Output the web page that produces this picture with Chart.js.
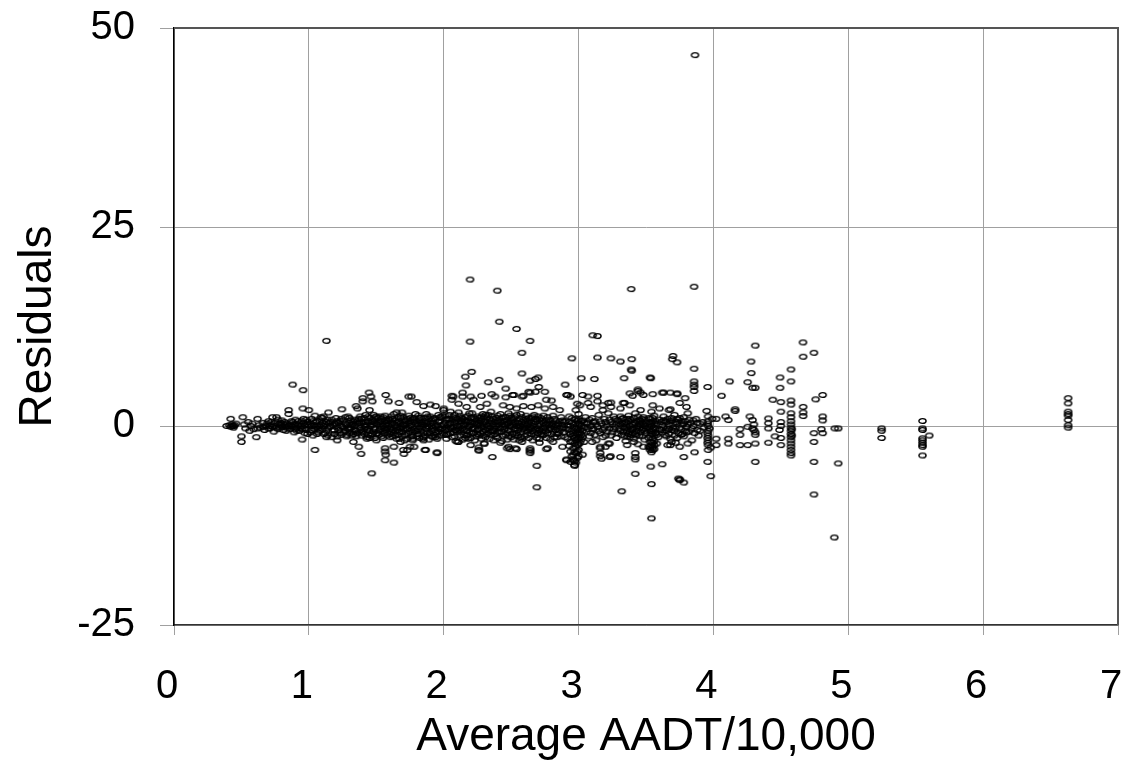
<!DOCTYPE html>
<html>
<head>
<meta charset="utf-8">
<script src="https://cdn.jsdelivr.net/npm/chart.js@4.4.0/dist/chart.umd.min.js"></script>
<style>
  html, body { margin: 0; padding: 0; background: #fff; }
  #wrap { width: 1126px; height: 762px; position: relative; }
</style>
</head>
<body>
<div id="wrap"><canvas id="chart"></canvas></div>
<script>
// Ejes
const xTicks = [0, 1, 2, 3, 4, 5, 6, 7];
const yTicks = [-25, 0, 25, 50];

// Residuales, [AADT/10000, residual], por tramos de x
const band04to10 = [
  [0.39,0.0],[0.41,0.1],[0.42,-0.1],[0.43,0.0],[0.43,0.2],[0.44,-0.2],[0.45,0.1],[0.44,0.0],[0.46,0.3],[0.42,0.9],
  [0.50,-1.3],[0.50,-2.0],[0.51,1.1],[0.52,0.2],[0.53,-0.3],[0.55,0.5],[0.56,-0.6],[0.57,0.0],[0.58,0.3],[0.59,-0.4],
  [0.61,-1.4],[0.62,0.9],[0.63,0.1],[0.64,-0.2],[0.66,0.4],[0.67,-0.5],[0.68,0.0],[0.70,0.6],[0.71,-0.3],[0.72,0.2],
  [0.73,1.1],[0.74,-0.7],[0.75,0.0],[0.76,1.1],[0.77,0.8],[0.78,-0.2],[0.79,0.4],[0.80,0.7],[0.81,-0.5],[0.82,0.1],
  [0.83,-0.1],[0.84,0.3],[0.85,2.0],[0.85,1.5],[0.86,-0.4],[0.87,0.0],[0.88,5.2],[0.88,0.5],[0.89,-0.8],[0.90,0.2],
  [0.91,-0.2],[0.92,0.6],[0.93,-0.6],[0.94,0.0],[0.95,-1.7],[0.955,2.2],[0.957,4.5],[0.96,0.4],[0.97,-0.3],[0.98,0.8],
  [0.99,-1.0],[1.0,2.0],[1.0,0.1],[0.76,-0.2],[0.78,0.3],[0.80,-0.1],[0.82,0.5],[0.84,-0.3],[0.86,0.2],[0.88,-0.1],
  [0.90,0.8],[0.91,-0.6],[0.93,0.3],[0.95,-0.4],[0.96,0.9],[0.97,-0.9],[0.99,0.2],[0.62,-0.3],[0.66,-0.1],[0.69,0.3],[0.71,0.0],
  [0.70,-0.3],[0.72,0.5],[0.73,-0.1],[0.75,0.4],[0.77,-0.4],[0.79,0.1],[0.81,0.3],[0.83,-0.6],[0.85,0.0],[0.87,0.6],
  [0.89,0.2],[0.90,-0.4],[0.92,0.1],[0.94,-0.3],[0.95,0.6],[0.97,0.1],[0.98,-0.5],[0.99,0.5]
];
const band10to15 = [
  [1.01,0.3],[1.02,-0.5],[1.02,0.9],[1.03,-1.2],[1.04,0.1],[1.045,-3.0],[1.045,1.3],[1.05,-0.2],[1.06,0.6],[1.07,-0.8],
  [1.08,0.0],[1.09,1.1],[1.10,-0.4],[1.10,0.4],[1.11,-1.0],[1.12,0.2],[1.13,10.7],[1.13,-0.6],[1.14,0.8],[1.145,1.7],
  [1.15,-0.1],[1.16,0.5],[1.17,-1.4],[1.18,0.1],[1.19,-0.5],[1.20,1.0],[1.21,-0.2],[1.22,0.4],[1.23,-0.9],[1.24,0.0],
  [1.245,2.1],[1.25,0.7],[1.26,-0.3],[1.27,0.3],[1.28,-1.1],[1.29,1.2],[1.30,-0.4],[1.31,0.2],[1.32,-0.7],[1.33,0.6],
  [1.34,0.0],[1.35,2.5],[1.35,-1.3],[1.36,2.2],[1.37,-2.6],[1.37,0.9],[1.38,-0.2],[1.387,-3.5],[1.39,0.4],[1.40,3.5],
  [1.40,3.1],[1.40,-0.8],[1.41,0.1],[1.42,1.4],[1.43,-0.5],[1.44,0.6],[1.446,4.2],[1.45,2.0],[1.45,-1.5],[1.46,3.7],
  [1.46,0.0],[1.466,-5.95],[1.47,3.1],[1.47,0.8],[1.48,-0.3],[1.49,1.1],[1.50,-1.0],
  [1.02,0.0],[1.05,0.5],[1.07,-0.3],[1.09,0.2],[1.12,-0.9],[1.15,0.4],[1.18,-0.6],[1.20,0.3],[1.23,0.6],[1.26,-0.8],
  [1.28,0.1],[1.31,-0.2],[1.33,-1.0],[1.36,0.3],[1.39,-0.7],[1.42,-0.1],[1.44,-1.1],[1.47,0.2],[1.49,-0.4],[1.11,1.2],
  [1.21,-1.3],[1.30,1.0],[1.41,1.0],[1.48,1.4],
  [1.01,-0.8],[1.03,0.6],[1.04,-0.4],[1.06,0.0],[1.06,-1.0],[1.08,0.7],[1.08,-0.6],[1.10,1.0],[1.11,0.0],[1.13,0.5],
  [1.14,-0.3],[1.14,-1.2],[1.16,0.0],[1.17,0.8],[1.19,0.3],[1.19,-1.0],[1.21,0.6],[1.22,-0.5],[1.24,-1.1],[1.24,0.9],
  [1.25,-0.1],[1.27,-0.6],[1.27,1.1],[1.29,-0.3],[1.30,0.4],[1.32,0.1],[1.32,-1.2],[1.34,0.8],[1.34,-0.5],[1.36,-0.9],
  [1.37,0.4],[1.38,1.2],[1.39,-1.2],[1.40,0.5],[1.41,-0.4],[1.43,0.2],[1.43,-1.4],[1.44,1.2],[1.45,-0.6],[1.46,0.5],
  [1.47,-1.0],[1.48,0.6],[1.49,-1.5],[1.50,0.3]
];
const band15to20 = [
  [1.51,0.2],[1.52,-0.6],[1.53,1.2],[1.54,-1.3],[1.55,0.0],[1.56,0.6],[1.565,1.3],[1.565,-2.8],[1.565,-3.2],[1.57,3.9],
  [1.57,-3.6],[1.565,-4.3],[1.58,-0.3],[1.59,3.1],[1.59,0.9],[1.60,-1.0],[1.61,0.3],[1.62,-0.5],[1.63,-2.6],[1.63,-4.6],
  [1.63,1.5],[1.64,0.1],[1.65,1.7],[1.65,-1.6],[1.66,0.5],[1.668,2.9],[1.67,-0.2],[1.68,1.0],[1.69,1.7],[1.69,-0.8],
  [1.70,0.2],[1.705,-3.5],[1.71,-1.8],[1.72,0.7],[1.73,-0.4],[1.74,3.7],[1.74,1.3],[1.75,-2.6],[1.75,0.0],[1.76,3.7],
  [1.77,-1.2],[1.78,-2.6],[1.78,0.5],[1.79,1.5],[1.80,3.0],[1.80,-0.6],[1.81,0.2],[1.82,-1.5],[1.83,1.0],[1.84,-0.1],
  [1.85,2.5],[1.85,-0.9],[1.86,0.6],[1.866,-3.0],[1.87,-0.3],[1.88,1.2],[1.89,-1.7],[1.90,2.7],[1.90,0.3],[1.91,-0.6],
  [1.92,0.9],[1.93,-1.1],[1.94,2.5],[1.94,0.0],[1.95,-3.3],[1.95,-1.6],[1.96,0.5],[1.97,-0.4],[1.98,1.1],[1.99,-0.9],
  [1.998,2.0],[2.0,0.2],
  [1.52,0.5],[1.54,-0.2],[1.56,-0.9],[1.58,0.4],[1.60,0.8],[1.62,-1.3],[1.64,-0.6],[1.66,-1.1],[1.68,-0.3],[1.70,1.1],
  [1.72,-1.1],[1.74,0.4],[1.76,-0.5],[1.78,1.0],[1.80,0.6],[1.82,-0.2],[1.84,0.5],[1.86,-1.2],[1.88,0.0],[1.90,-0.9],
  [1.92,-0.2],[1.94,-1.4],[1.96,1.4],[1.98,0.1],[1.53,-0.4],[1.57,0.2],[1.61,-0.2],[1.67,0.6],[1.71,0.1],[1.73,-1.6],
  [1.77,0.8],[1.81,-1.0],[1.83,0.3],[1.87,1.5],[1.91,0.7],[1.97,-1.2],
  [1.51,-0.9],[1.51,1.0],[1.53,0.2],[1.54,0.9],[1.55,-0.6],[1.55,-1.5],[1.57,0.7],[1.57,-0.5],[1.58,-1.2],[1.59,0.1],
  [1.60,-0.4],[1.61,1.2],[1.62,0.4],[1.63,-0.9],[1.64,0.7],[1.65,-0.2],[1.66,1.1],[1.67,-0.7],[1.67,-1.6],[1.68,0.3],
  [1.69,-1.3],[1.70,-0.4],[1.71,0.6],[1.72,-0.3],[1.73,0.9],[1.74,-0.9],[1.75,0.6],[1.76,0.1],[1.77,-0.8],[1.77,-1.8],
  [1.78,-0.3],[1.79,0.3],[1.80,-1.3],[1.81,1.3],[1.82,0.7],[1.83,-0.6],[1.84,-1.6],[1.85,0.1],[1.86,1.0],[1.87,-0.7],
  [1.88,0.5],[1.89,-0.2],[1.90,1.2],[1.91,-1.3],[1.92,0.4],[1.93,-0.5],[1.94,0.8],[1.95,0.1],[1.96,-0.7],[1.97,0.6],
  [1.98,-0.4],[1.99,1.3],[2.00,-1.1]
];
const fringe10to20 = [
  [1.13,-1.4],[1.21,-1.8],[1.28,-1.3],[1.33,-2.0],[1.43,-1.6],[1.50,-1.8],[1.60,-1.4],[1.68,-2.0],[1.77,-1.6],
  [1.85,-1.8],[1.92,-1.4],[1.70,-3.0],[1.73,-3.0],[1.86,-3.0],[1.95,-3.4]
];
const core13to20 = [
  [1.30,-0.9],[1.31,0.7],[1.33,0.3],[1.35,-0.6],[1.36,0.6],[1.38,-0.5],[1.39,0.9],[1.41,-1.0],[1.42,0.5],[1.44,-0.3],
  [1.45,1.0],[1.46,-1.2],[1.48,-0.7],[1.49,0.4],[1.50,1.2],[1.52,-1.1],[1.53,0.6],[1.55,1.1],[1.56,-0.3],[1.58,-0.8],
  [1.59,0.6],[1.61,-0.7],[1.62,0.9],[1.64,-1.2],[1.65,0.4],[1.66,-0.5],[1.68,1.3],[1.69,-0.1],[1.71,-1.1],[1.72,0.3],
  [1.74,-0.2],[1.75,1.0],[1.76,-1.3],[1.78,0.7],[1.79,-0.6],[1.81,-0.4],[1.82,1.0],[1.84,0.2],[1.85,-1.4],[1.87,0.3],
  [1.88,-0.9],[1.89,0.9],[1.91,0.0],[1.93,1.0],[1.94,-0.8],[1.96,-0.2],[1.97,1.1],[1.99,-0.3]
];
const band20to30 = [
  [2.01,-0.5],[2.02,0.8],[2.02,-1.6],[2.03,0.1],[2.04,1.4],[2.05,-0.9],[2.05,0.4],[2.16,6.2],[2.06,-0.2],[2.07,3.7],
  [2.07,1.1],[2.08,-1.3],[2.09,0.6],[2.09,-0.5],[2.10,0.0],[2.11,1.7],[2.11,-2.0],[2.12,0.3],[2.13,-0.8],[2.13,1.0],
  [2.14,4.2],[2.14,3.7],[2.14,-0.3],[2.15,0.7],[2.16,-1.5],[2.165,5.1],[2.16,0.2],[2.17,-0.6],[2.18,1.3],[2.18,-1.1],
  [2.19,0.0],[2.195,18.4],[2.195,10.6],[2.2,0.5],[2.207,6.8],[2.21,-0.9],[2.21,1.6],[2.22,-0.2],[2.23,0.9],[2.23,-1.8],
  [2.24,0.3],[2.25,-0.5],[2.25,1.2],[2.26,-3.0],[2.26,-1.2],[2.27,0.1],[2.28,3.8],[2.28,0.8],[2.29,-0.7],[2.29,1.5],
  [2.30,-0.1],[2.30,-2.2],
  [2.31,0.6],[2.32,-1.0],[2.32,1.1],[2.33,5.5],[2.33,0.0],[2.34,-1.6],[2.34,0.4],[2.35,1.8],[2.356,4.0],[2.36,-3.9],
  [2.36,-0.6],[2.37,0.9],[2.38,3.7],[2.38,-0.3],[2.39,-1.3],[2.397,17.0],[2.40,0.2],[2.40,1.3],[2.41,5.8],[2.412,13.1],
  [2.41,-0.8],[2.42,0.5],[2.43,-1.9],[2.43,1.0],[2.44,-0.1],[2.45,0.7],[2.46,4.7],[2.46,-1.1],[2.47,0.3],[2.48,-0.5],
  [2.48,1.6],[2.49,-2.9],[2.49,0.0],[2.50,-1.4],[2.51,3.9],[2.51,0.8],[2.52,-0.4],[2.53,1.2],[2.54,12.2],[2.54,-2.9],
  [2.54,-0.9],[2.55,0.4],[2.56,-0.2],[2.57,1.5],[2.58,9.2],[2.58,6.6],[2.58,-1.6],[2.59,3.8],[2.59,0.1],[2.60,-0.6],
  [2.61,0.9],[2.62,-1.1],[2.63,0.3],[2.64,10.7],[2.64,5.7],[2.64,4.2],[2.64,-3.0],[2.64,-3.4],[2.65,-0.3],[2.66,1.2],
  [2.67,-0.8],[2.68,5.9],[2.68,0.5],[2.69,-5.0],[2.69,-7.7],[2.69,-1.5],[2.70,6.1],[2.705,4.9],[2.70,0.0],[2.71,-0.5],
  [2.72,1.0],[2.73,-1.2],[2.74,0.4],[2.75,-0.2],[2.76,3.3],[2.76,-2.9],[2.76,0.7],[2.77,-0.9],[2.78,0.2],[2.79,-1.7],
  [2.80,3.2],[2.80,-0.4],[2.81,1.3],[2.82,-0.1],[2.83,0.6],[2.84,-1.0],[2.85,0.3],[2.86,-0.6],[2.87,1.1],[2.88,-0.3],
  [2.89,0.5],[2.90,5.2],[2.90,-1.4],
  [2.91,3.9],[2.91,-4.3],[2.92,0.1],[2.93,-0.8],[2.93,1.2],[2.94,-2.0],[2.94,-4.5],[2.95,8.5],[2.95,-3.8],[2.95,0.4],
  [2.96,-1.2],[2.96,-2.8],[2.97,-5.0],[2.97,0.8],[2.97,-3.3],[2.98,-0.3],[2.98,-1.8],[2.98,2.0],[2.99,-0.9],[2.99,-2.4],
  [2.99,-4.0],[3.00,0.3],[3.00,-1.5],[3.00,1.5],[3.00,-3.0],[2.95,-0.6],[2.96,0.2],[2.97,-1.5],[2.98,-2.6],[2.99,0.6],
  [3.00,-0.8],[2.94,-1.0],[2.96,-3.6],[2.98,-4.6]
];
const core20to30 = [
  [2.01,0.4],[2.01,1.2],[2.02,-0.2],[2.03,-1.0],[2.03,0.9],[2.04,-0.4],[2.04,0.3],[2.05,1.8],[2.06,0.7],[2.06,-1.4],
  [2.07,-0.1],[2.07,-0.8],[2.08,0.4],[2.08,1.4],[2.09,-1.9],[2.10,0.9],[2.10,-0.7],[2.11,-0.3],[2.11,0.6],[2.12,-1.2],
  [2.12,1.3],[2.13,0.0],[2.14,0.9],[2.14,-1.7],[2.15,-0.5],[2.15,0.2],[2.16,1.1],[2.17,0.5],[2.17,-1.2],[2.18,-0.2],
  [2.18,0.6],[2.19,1.6],[2.19,-0.8],[2.20,-1.5],[2.20,0.1],[2.21,0.4],[2.22,-0.9],[2.22,1.1],[2.23,-0.3],[2.24,-1.3],
  [2.24,0.7],[2.25,0.1],[2.26,1.0],[2.26,-0.4],[2.27,-0.9],[2.27,0.6],[2.28,-0.2],[2.28,-1.6],[2.29,0.3],[2.30,1.1],
  [2.30,0.5],[2.31,-0.5],[2.31,-1.4],[2.32,0.2],[2.33,1.4],[2.33,-0.8],[2.34,-0.3],[2.35,0.6],[2.35,-1.1],[2.36,0.2],
  [2.36,1.2],[2.37,-0.6],[2.37,-1.8],[2.38,0.5],[2.39,0.0],[2.39,1.0],[2.40,-0.7],[2.40,-1.5],[2.41,0.8],[2.42,-0.3],
  [2.42,1.5],[2.43,0.2],[2.44,-1.2],[2.44,0.6],[2.45,-0.4],[2.46,1.1],[2.46,0.1],[2.47,-0.9],[2.47,-1.7],[2.48,0.4],
  [2.49,1.3],[2.49,-0.6],[2.50,0.6],[2.50,-0.1],
  [2.51,-1.0],[2.51,0.2],[2.52,1.0],[2.52,-1.7],[2.53,-0.3],[2.53,0.5],[2.54,1.4],[2.55,-1.2],[2.55,-0.5],[2.56,0.8],
  [2.56,-1.8],[2.57,0.0],[2.57,-0.8],[2.58,0.5],[2.58,1.1],[2.59,-0.4],[2.60,-1.3],[2.60,0.3],[2.61,-0.2],[2.61,1.3],
  [2.62,0.6],[2.62,-0.7],[2.63,-1.5],[2.63,1.0],[2.64,-0.1],[2.64,0.7],[2.65,-1.0],[2.65,0.4],[2.66,-0.6],[2.66,-1.8],
  [2.67,0.2],[2.67,1.4],[2.68,-0.4],[2.68,-1.1],[2.69,0.8],[2.70,-0.9],[2.70,1.2],[2.71,0.3],[2.71,-1.6],[2.72,-0.3],
  [2.73,0.6],[2.73,-0.7],[2.74,1.3],[2.74,-1.1],[2.75,0.1],[2.75,-0.6],[2.76,-1.5],[2.77,0.4],[2.77,1.1],[2.78,-0.5],
  [2.79,0.7],[2.79,-0.2],[2.80,-1.0],[2.81,0.3],[2.82,-1.4],[2.82,0.9],[2.83,-0.5],[2.84,0.2],[2.85,-0.9],[2.86,0.6],
  [2.87,-1.3],[2.88,0.1],[2.89,-0.8],[2.90,0.6],
  [2.92,-0.4],[2.92,-1.6],[2.93,0.5],[2.93,-2.5],[2.94,0.0],[2.94,-3.2],[2.95,-1.9],[2.95,1.0],[2.96,-0.9],[2.96,-4.2],
  [2.97,-0.2],[2.97,-2.2],[2.97,-4.4],[2.98,0.9],[2.98,-1.2],[2.98,-3.4],[2.99,-0.5],[2.99,-1.6],[2.99,-3.2],[3.00,-0.2],
  [3.00,-2.3],[3.00,-3.8],[3.00,0.8]
];
const core20to29b = [
  [2.02,-1.1],[2.04,0.9],[2.05,-0.2],[2.08,-0.5],[2.09,1.0],[2.12,-0.5],[2.13,0.6],[2.15,-1.1],[2.16,0.6],[2.18,-1.6],
  [2.20,1.0],[2.21,-0.4],[2.23,0.4],[2.25,-1.0],[2.26,0.4],[2.28,1.2],[2.29,-1.2],[2.31,1.4],[2.32,-0.3],[2.34,0.9],
  [2.35,-0.7],[2.37,0.2],[2.38,-1.0],[2.40,0.6],[2.41,-0.3],[2.43,-0.7],[2.44,1.1],[2.45,0.2],[2.47,0.8],[2.48,-1.3],
  [2.50,1.0],[2.52,0.3],[2.53,-1.2],[2.54,0.0],[2.56,0.3],[2.57,-1.4],[2.59,0.8],[2.60,-0.2],[2.62,0.1],[2.63,-0.4],
  [2.65,1.0],[2.66,0.0],[2.68,0.9],[2.69,-0.3],[2.71,0.8],[2.72,-1.0],[2.74,-0.3],[2.76,0.2],[2.78,0.8],[2.80,0.1],
  [2.81,-0.7],[2.83,0.1],[2.84,-1.4],[2.86,-0.2],[2.88,0.7],[2.89,-0.2]
];
const fringe20to30 = [
  [2.00,2.2],[2.06,3.3],[2.11,2.8],[2.17,2.4],[2.22,3.3],[2.27,2.4],[2.32,2.8],[2.44,2.6],[2.49,2.4],[2.54,2.2],
  [2.59,2.5],[2.65,2.4],[2.70,2.6],[2.75,2.2],[2.81,2.4],[2.86,2.0],[2.92,3.9],[2.99,2.8],[2.06,3.8],[2.20,3.7],
  [2.46,3.6],[2.52,3.9],[2.58,3.7],[2.63,4.3],[2.68,4.3],[2.75,4.3],[2.94,3.7],
  [2.10,-2.0],[2.20,-2.4],[2.30,-2.2],[2.42,-2.1],[2.48,-2.6],[2.58,-2.0],[2.71,-2.1],[2.81,-2.0],[2.88,-2.6],
  [2.26,-2.7],[2.26,-3.1],[2.47,-2.8],[2.53,-2.8],[2.64,-2.8],[2.64,-3.2],[2.77,-2.8],[2.91,-4.2],[2.96,-4.3],[2.97,-4.9]
];
const band30to40 = [
  [3.01,-0.5],[3.01,-2.1],[3.01,2.6],[3.02,6.0],[3.02,0.0],[3.02,-1.1],[3.03,0.7],[3.03,-3.6],[3.04,-0.2],[3.05,1.1],
  [3.01,-1.4],[3.06,-0.7],[3.07,2.9],[3.07,0.4],[3.08,-1.3],[3.09,0.0],[3.10,1.0],[3.105,11.4],[3.11,-0.4],[3.117,5.9],
  [3.12,0.6],[3.13,-1.8],[3.14,11.3],[3.14,8.6],[3.14,3.1],[3.14,-0.1],[3.15,1.4],[3.16,-3.8],[3.16,-0.9],[3.17,-4.1],
  [3.17,0.3],[3.18,2.6],[3.18,-0.5],[3.19,0.9],[3.20,-1.2],[3.21,0.1],[3.22,-2.2],[3.22,1.6],[3.23,-0.3],[3.237,-3.8],
  [3.24,8.5],[3.24,2.95],[3.24,0.5],[3.25,-0.8],[3.26,1.2],[3.27,-0.1],[3.28,-1.5],[3.29,0.7],[3.30,-0.4],
  [3.31,0.2],[3.32,-8.2],[3.32,-1.1],[3.33,1.0],[3.337,6.0],[3.34,2.9],[3.34,-0.3],[3.35,-1.9],[3.35,0.5],[3.36,-0.6],
  [3.37,1.3],[3.38,0.0],[3.38,-1.4],[3.39,17.2],[3.394,8.4],[3.394,6.95],[3.39,0.7],[3.40,3.8],[3.40,-0.9],[3.41,0.3],
  [3.42,-3.9],[3.42,-6.0],[3.42,1.6],[3.43,-0.2],[3.44,4.6],[3.44,-2.3],[3.45,0.8],[3.45,-1.2],[3.46,4.2],[3.46,0.1],
  [3.47,-0.5],[3.48,3.9],[3.48,1.1],[3.49,-1.7],[3.50,0.4],[3.31,-0.6],[3.33,-0.1],[3.36,0.9],[3.39,-0.4],[3.41,-1.6],
  [3.43,0.6],[3.47,0.9],[3.49,0.0],
  [3.51,-0.3],[3.52,-2.6],[3.52,1.0],[3.53,0.2],[3.53,-1.2],[3.535,6.0],[3.535,-5.1],[3.54,-7.3],[3.54,-11.6],[3.54,-0.6],
  [3.54,-2.0],[3.54,1.8],[3.55,4.0],[3.55,-3.0],[3.55,0.6],[3.55,-1.6],[3.56,-0.2],[3.56,-2.4],[3.56,1.3],[3.57,-0.9],
  [3.58,0.3],[3.59,-1.4],[3.60,0.8],[3.53,-2.8],[3.54,0.0],[3.55,-0.9],[3.56,-1.9],[3.53,0.9],[3.54,-3.3],
  [3.61,-0.5],[3.62,4.2],[3.62,-4.8],[3.62,0.1],[3.63,1.2],[3.64,-1.1],[3.65,0.5],[3.66,-0.3],[3.67,2.0],[3.68,4.2],
  [3.68,-1.6],[3.69,0.7],[3.695,8.4],[3.70,8.8],[3.70,-0.2],[3.71,1.4],[3.72,-2.1],[3.73,8.0],[3.73,4.0],[3.73,0.3],
  [3.74,-0.9],[3.75,-6.8],[3.75,-6.7],[3.75,1.0],[3.76,-0.4],[3.77,0.2],[3.78,-7.1],[3.78,-3.9],[3.78,-1.3],[3.79,3.5],
  [3.79,0.6],[3.80,-0.1],[3.81,1.6],[3.82,-0.7],[3.83,0.4],[3.84,-1.8],[3.85,0.0],[3.856,17.5],[3.856,7.2],[3.856,5.6],
  [3.856,5.2],[3.856,4.9],[3.856,4.4],[3.86,-3.3],[3.863,46.6],[3.87,0.9],[3.88,-0.5],[3.89,-1.2],[3.90,0.3],
  [3.93,-0.2],[3.95,1.9],[3.957,4.9],[3.957,-4.5],[3.96,1.2],[3.96,0.6],[3.96,0.0],[3.96,-0.6],[3.96,-1.2],[3.96,-1.8],
  [3.96,-2.4],[3.96,-3.0],[3.957,0.3],[3.957,-0.9],[3.957,-1.5],[3.957,-2.1],[3.98,-6.3],[3.98,-2.7],[3.97,-0.3],[3.99,0.9]
];
const core30to40 = [
  [3.01,0.2],[3.01,-0.9],[3.02,-1.7],[3.02,0.6],[3.03,-0.6],[3.03,-1.4],[3.04,0.4],[3.04,-2.0],
  [3.06,0.3],[3.07,-0.4],[3.08,0.8],[3.09,-0.9],[3.10,-0.3],[3.11,0.5],[3.12,-1.1],[3.13,0.2],[3.15,-0.6],[3.16,0.6],
  [3.18,-1.4],[3.19,-0.2],[3.20,0.5],[3.21,-0.7],[3.23,0.8],[3.24,-1.2],[3.25,0.2],[3.26,-0.4],[3.27,0.9],[3.28,0.3],
  [3.29,-0.9],[3.30,0.6],[3.31,1.2],[3.32,0.4],[3.33,-0.7],[3.34,-1.3],[3.35,0.1],[3.36,-0.2],[3.37,-1.0],[3.37,0.6],
  [3.38,0.9],[3.39,-1.1],[3.40,0.2],[3.40,-0.4],[3.41,1.0],[3.42,-1.0],[3.42,0.4],[3.43,-0.6],[3.44,0.0],[3.44,1.2],
  [3.45,-0.3],[3.46,-0.8],[3.46,0.6],[3.47,-1.3],[3.48,0.2],[3.48,-0.3],[3.49,0.8],[3.50,-0.9],
  [3.52,-0.2],[3.52,-1.5],[3.53,-0.6],[3.53,-2.0],[3.53,0.5],[3.54,-1.0],[3.54,-2.4],[3.54,0.4],[3.55,-0.4],[3.55,-2.1],
  [3.55,1.0],[3.55,-2.7],[3.56,0.3],[3.56,-1.2],[3.56,-2.9],[3.57,-0.4],[3.57,0.6],[3.58,-1.1],
  [3.60,-0.4],[3.61,0.5],[3.62,-0.8],[3.63,-0.2],[3.64,0.6],[3.65,-0.6],[3.66,0.9],[3.67,-1.0],[3.67,0.2],[3.68,0.6],
  [3.69,-0.5],[3.70,0.3],[3.71,-1.2],[3.72,0.5],[3.72,-0.3],[3.73,-1.5],[3.74,0.8],[3.75,-0.2],[3.76,0.6],[3.77,-1.0],
  [3.78,0.3],[3.80,-0.8],[3.81,0.2],[3.82,0.8],[3.84,-0.3],[3.85,0.7],[3.86,-0.9],[3.88,0.4],[3.90,-0.6],[3.92,0.5],
  [3.32,0.9],[3.34,0.3],[3.36,-1.3],[3.38,-0.7],[3.41,-0.2],[3.43,-1.2],[3.45,0.3],[3.47,0.4],[3.49,-0.6],
  [3.63,0.7],[3.65,-1.3],[3.67,-0.4],[3.69,1.0],[3.71,-0.6],[3.73,0.9],[3.76,-1.1],[3.78,1.1],[3.79,-0.6]
];
const fringe30to40 = [
  [3.03,3.9],[3.07,3.7],[3.14,3.8],[3.22,2.9],[3.33,2.9],[3.38,4.1],[3.44,4.4],[3.39,7.1],[3.53,6.1],[3.31,8.1],
  [3.63,4.2],[3.73,4.1],[3.09,2.4],[3.18,2.0],[3.24,2.4],[3.31,2.2],[3.38,2.6],[3.46,2.0],[3.55,2.6],[3.60,2.2],
  [3.68,2.1],[3.75,2.9],[3.80,2.4],
  [3.10,-2.0],[3.16,-2.6],[3.23,-2.2],[3.36,-2.4],[3.41,-2.0],[3.48,-2.6],[3.58,-2.2],[3.68,-2.4],[3.75,-2.6],[3.81,-2.2],
  [3.16,-2.8],[3.16,-3.4],[3.20,-2.6],[3.23,-3.9],[3.31,-3.9],[3.42,-4.2],[3.42,-3.4],[3.53,-2.6],[3.53,-3.0],
  [3.74,-6.6],[3.66,-2.4],[3.69,-2.0]
];
const band40to50 = [
  [4.02,0.9],[4.02,-1.6],[4.02,-2.4],[4.06,3.8],[4.09,1.2],[4.11,0.75],[4.11,-1.6],[4.11,-2.2],[4.12,5.6],[4.16,2.1],
  [4.16,1.9],[4.197,-0.4],[4.197,-1.1],[4.197,-2.4],[4.254,5.5],[4.254,-0.1],[4.254,-2.4],[4.279,8.1],[4.28,6.65],[4.29,4.8],
  [4.29,0.75],[4.27,1.2],[4.31,10.1],[4.31,4.8],[4.31,-1.1],[4.31,-2.2],[4.31,-4.5],[4.30,0.2],[4.30,-0.5],[4.31,-0.8],
  [4.29,-0.3],[4.407,0.95],[4.407,0.35],[4.407,-0.3],[4.407,-2.1],[4.44,3.3],[4.456,-1.3],[4.494,6.1],[4.494,4.8],[4.50,3.0],
  [4.50,1.8],[4.50,-1.5],[4.50,-2.4],[4.50,0.5],[4.50,0.0],[4.49,-0.5],
  [4.575,7.1],[4.575,5.6],[4.575,3.2],[4.575,2.7],[4.575,1.6],[4.575,1.1],[4.575,0.6],[4.575,0.2],[4.575,-0.2],[4.575,-0.6],
  [4.575,-1.0],[4.575,-1.4],[4.575,-1.8],[4.575,-2.2],[4.575,-2.6],[4.575,-3.0],[4.575,-3.4],[4.575,-3.7],[4.58,-0.4],[4.58,-1.2],
  [4.664,10.5],[4.665,8.7],[4.665,2.4],[4.665,1.7],[4.665,1.25],[4.745,9.2],[4.745,-0.9],[4.745,-2.0],[4.745,-4.5],[4.745,-8.6],
  [4.758,3.35],[4.81,3.9],[4.81,1.2],[4.81,0.7],[4.81,-0.9],[4.80,-0.4],[4.896,-14.0],[4.90,-0.3],[4.925,-0.3],[4.925,-4.7]
];
const tail50plus = [
  [5.247,-0.3],[5.247,-0.6],[5.247,-1.5],[5.55,0.63],[5.55,-0.3],[5.55,-0.5],[5.55,-1.55],[5.55,-1.8],[5.55,-2.1],
  [5.55,-2.4],[5.55,-2.6],[5.55,-3.7],[5.60,-1.2],
  [6.63,3.5],[6.63,2.85],[6.63,1.8],[6.63,1.5],[6.63,1.3],[6.63,0.75],[6.63,0.1],[6.63,-0.2]
];

const allPoints = [].concat(band04to10, band10to15, band15to20, fringe10to20, core13to20, band20to30, core20to30,
    core20to29b, fringe20to30, band30to40, core30to40, fringe30to40, band40to50, tail50plus)
  .map(p => ({ x: p[0], y: p[1] }));

// Marcador: elipse hueca pequeña
function makeMarker() {
  const c = document.createElement('canvas');
  c.width = 11;
  c.height = 8;
  const g = c.getContext('2d');
  g.strokeStyle = '#000';
  g.lineWidth = 1.4;
  g.beginPath();
  g.ellipse(5.5, 4, 3.6, 2.4, 0, 0, Math.PI * 2);
  g.stroke();
  return c;
}

// Marco superior y derecho del área de trazado
const framePlugin = {
  id: 'frame',
  afterDraw(chart) {
    const { ctx, chartArea: a } = chart;
    ctx.save();
    ctx.strokeStyle = '#555';
    ctx.lineWidth = 2;
    ctx.beginPath();
    ctx.moveTo(a.left, a.top);
    ctx.lineTo(a.right, a.top);
    ctx.lineTo(a.right, a.bottom);
    ctx.stroke();
    ctx.restore();
  }
};

const FONT = "'Liberation Sans', Arial, sans-serif";

new Chart(document.getElementById('chart'), {
  type: 'scatter',
  data: {
    datasets: [{
      data: allPoints,
      pointStyle: makeMarker(),
      pointRadius: 3,
      borderColor: '#000',
      backgroundColor: 'transparent'
    }]
  },
  options: {
    responsive: true,
    maintainAspectRatio: false,
    animation: false,
    layout: { padding: { top: 28, right: 8, left: 0, bottom: 0 } },
    plugins: {
      legend: { display: false },
      tooltip: { enabled: false }
    },
    scales: {
      x: {
        type: 'linear',
        min: xTicks[0],
        max: xTicks[xTicks.length - 1],
        afterBuildTicks: s => { s.ticks = xTicks.map(v => ({ value: v })); },
        afterFit: s => { s.height = 137; s.paddingLeft = 0; s.paddingRight = 0; },
        ticks: { font: { family: FONT, size: 40 }, color: '#000', padding: 28, maxRotation: 0, labelOffset: -7 },
        grid: { color: '#a0a0a0', lineWidth: 1, tickLength: 10 },
        border: { display: true, color: '#333', width: 1.5 },
        title: {
          display: true,
          text: 'Average AADT/10,000',
          color: '#000',
          font: { family: FONT, size: 46, lineHeight: 1 },
          padding: { top: 0, bottom: 2 }
        }
      },
      y: {
        type: 'linear',
        min: yTicks[0],
        max: yTicks[yTicks.length - 1],
        afterBuildTicks: s => { s.ticks = yTicks.map(v => ({ value: v })); },
        afterFit: s => { s.width = 174; s.paddingTop = 0; s.paddingBottom = 0; },
        ticks: { font: { family: FONT, size: 40 }, color: '#000', padding: 25 },
        grid: { color: '#a0a0a0', lineWidth: 1, tickLength: 14 },
        border: { display: true, color: '#000', width: 1.5 },
        title: {
          display: true,
          text: 'Residuals',
          color: '#000',
          font: { family: FONT, size: 46, lineHeight: 1 },
          padding: { top: 15, bottom: 0 }
        }
      }
    }
  },
  plugins: [framePlugin]
});
</script>
</body>
</html>
